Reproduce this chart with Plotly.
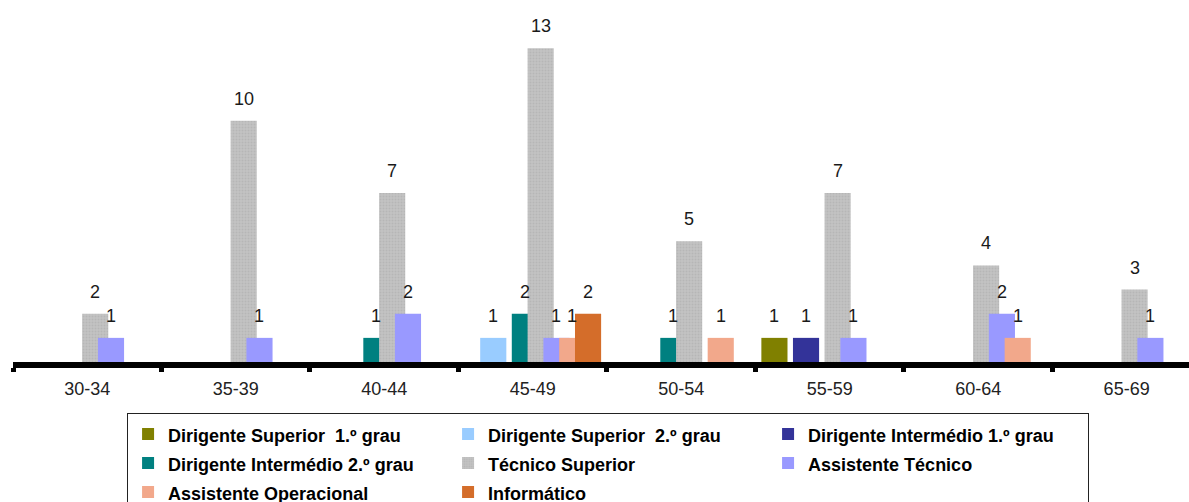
import plotly.graph_objects as go

# Age brackets (x categories)
age_groups = ["30-34", "35-39", "40-44", "45-49", "50-54", "55-59", "60-64", "65-69"]

# Head-count per career group and age bracket (None = no one in that bracket)
dirigente_sup_1 = [None, None, None, None, None, 1, None, None]
dirigente_sup_2 = [None, None, None, 1, None, None, None, None]
dirigente_int_1 = [None, None, None, None, None, 1, None, None]
dirigente_int_2 = [None, None, 1, 2, 1, None, None, None]
tecnico_superior = [2, 10, 7, 13, 5, 7, 4, 3]
assistente_tecnico = [1, 1, 2, 1, None, 1, 2, 1]
assistente_operacional = [None, None, None, 1, 1, None, 1, None]
informatico = [None, None, None, 2, None, None, None, None]

series_names = [
    "Dirigente Superior\u00a0\u00a01.º grau",
    "Dirigente Superior\u00a0\u00a02.º grau",
    "Dirigente Intermédio 1.º grau",
    "Dirigente Intermédio 2.º grau",
    "Técnico Superior",
    "Assistente Técnico",
    "Assistente Operacional",
    "Informático",
]
series_values = [
    dirigente_sup_1, dirigente_sup_2, dirigente_int_1, dirigente_int_2,
    tecnico_superior, assistente_tecnico, assistente_operacional, informatico,
]
series_colors = ["#808000", "#99CCFF", "#333399", "#008080",
                 "#C0C0C0", "#9999FF", "#F2A88B", "#D46D2A"]

FONT = "Arial, 'Liberation Sans', sans-serif"

# bars overlap each other inside a bracket: fixed width, fixed step
BAR_W = 0.176
STEP = 0.1064
FIRST = -0.46

fig = go.Figure()
annotations = []
for k, (name, vals, col) in enumerate(zip(series_names, series_values, series_colors)):
    off = FIRST + k * STEP
    marker = dict(color=col, line=dict(width=0))
    if name == "Técnico Superior":
        marker["pattern"] = dict(shape=".", bgcolor="#C3C3C3", fgcolor="#A9A9A9",
                                 size=3, solidity=0.35)
    fig.add_trace(go.Bar(
        x=age_groups, y=vals, name=f"<span style='font-size:18px'>{name}</span>",
        offset=off, width=BAR_W, marker=marker,
    ))
    for i, v in enumerate(vals):
        if v is None:
            continue
        annotations.append(dict(
            x=i + off + BAR_W / 2, y=v, xref="x", yref="y",
            text=str(v), showarrow=False, yanchor="bottom", yshift=10,
            font=dict(family=FONT, size=18, color="#1a1a1a"),
        ))

fig.update_layout(
    width=1189, height=502,
    margin=dict(l=13, r=0, t=0, b=140, autoexpand=False),
    barmode="overlay",
    plot_bgcolor="white", paper_bgcolor="white",
    font=dict(family=FONT, color="#1a1a1a"),
    annotations=annotations,
    showlegend=True,
    legend=dict(
        orientation="h", x=0.097, y=-0.142, xanchor="left", yanchor="top",
        bordercolor="#222222", borderwidth=1, bgcolor="white",
        font=dict(family=FONT, size=20, color="#000000", weight="bold"),
        entrywidth=275, entrywidthmode="pixels",
        traceorder="normal",
    ),
)
fig.update_xaxes(
    type="category", range=[-0.5, 7.42],
    showline=True, linecolor="black", linewidth=6,
    ticks="outside", tickson="boundaries", ticklen=4, tickwidth=5, tickcolor="black",
    tickfont=dict(family=FONT, size=18, color="#222222"), ticklabelstandoff=5,
    showgrid=False, zeroline=False,
)
fig.update_yaxes(
    range=[0, 15], visible=False, showgrid=False, zeroline=False,
)

fig.write_html("out.html")
